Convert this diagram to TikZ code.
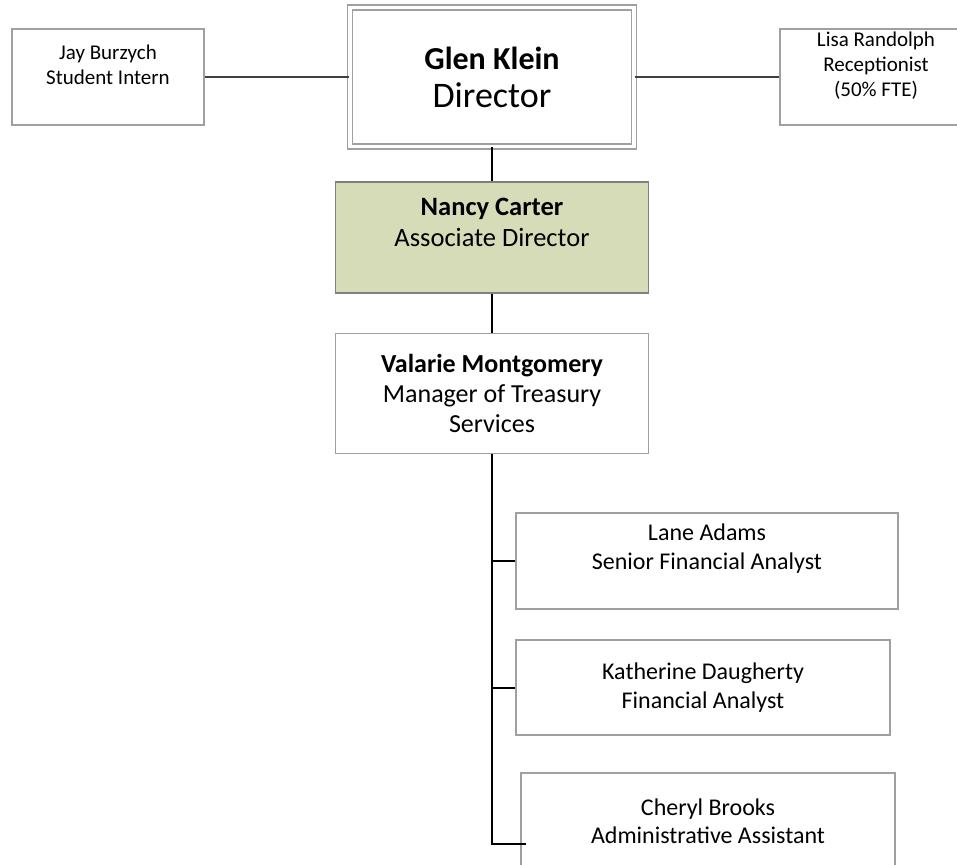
\documentclass[tikz,border=0pt]{standalone}
\usepackage{fontspec}
\setmainfont{Carlito}
\definecolor{boxgray}{RGB}{160,160,160}
\definecolor{assocgreen}{RGB}{214,220,184}
\tikzstyle{person}=[draw=boxgray, line width=1.3pt, fill=white, inner sep=0pt, align=center, text=black]
\tikzstyle{link}=[line width=2pt, black]

\begin{document}
\begin{tikzpicture}[x=1pt, y=-1pt]
\clip (0,0) rectangle (957,864);
% Director and his staff
    \node[person, double, double distance=3.5pt, minimum width=284pt, minimum height=139pt,
          font=\fontsize{34}{38}\selectfont] (gk) at (492,77)
          {{\fontsize{32}{38}\selectfont\bfseries Glen Klein}\\{\fontsize{36}{38}\selectfont Director}};
    \node[person, minimum width=192pt, minimum height=96pt,
          font=\fontsize{21}{25}\selectfont] (jb) at (108,77) {Jay Burzych\\Student Intern\\~};
    \node[person, minimum width=192pt, minimum height=96pt,
          font=\fontsize{21}{25}\selectfont] (lr) at (876,77) {Lisa Randolph\\Receptionist\\(50\% FTE)\\~};
% Associate director and manager
    \node[person, fill=assocgreen, draw=gray, minimum width=313pt, minimum height=111pt,
          font=\fontsize{26.5}{31}\selectfont] (nc) at (492,237.5) {\textbf{Nancy Carter}\\Associate Director\\~};
    \node[person, minimum width=313pt, minimum height=120pt,
          font=\fontsize{26}{30}\selectfont] (vm) at (492,393.5) {\textbf{Valarie Montgomery}\\Manager of Treasury\\Services};
% Treasury services staff
    \node[person, minimum width=382pt, minimum height=96pt,
          font=\fontsize{24}{28.5}\selectfont] (la) at (707,561) {Lane Adams\\Senior Financial Analyst\\~};
    \node[person, minimum width=374pt, minimum height=95pt,
          font=\fontsize{24}{28.5}\selectfont] (kd) at (703,687.5) {Katherine Daugherty\\Financial Analyst};
    \node[person, minimum width=374pt, minimum height=96pt,
          font=\fontsize{24}{28.5}\selectfont] (cb) at (708,821) {Cheryl Brooks\\Administrative Assistant};
% Links
    \draw[link, black!75] (jb) -- (gk);
    \draw[link, black!75] (gk) -- (lr);
    \draw[link] (gk.south) -- (nc.north);
    \draw[link] (nc.south) -- (vm.north);
    \coordinate (cbtick) at (526,844);
    \draw[link] (vm.south) -- (vm.south |- cbtick) -- (cbtick);
    \draw[link] (vm.south |- la.west) -- (la.west);
    \draw[link] (vm.south |- kd.west) -- (kd.west);
\end{tikzpicture}
\end{document}
